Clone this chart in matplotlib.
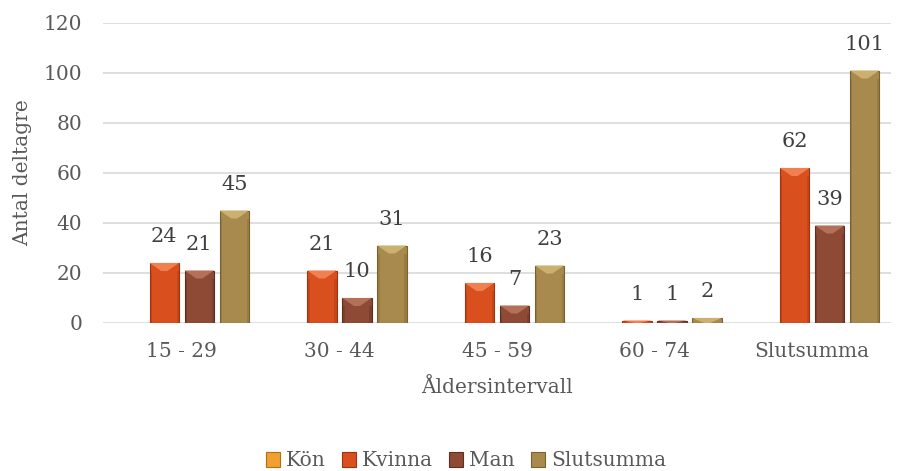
import matplotlib
matplotlib.use("Agg")
import matplotlib.pyplot as plt
import numpy as np
from matplotlib.patches import Polygon, Rectangle, Patch

categories = ["15 - 29", "30 - 44", "45 - 59", "60 - 74", "Slutsumma"]
series_names = ["Kön", "Kvinna", "Man", "Slutsumma"]
kon = [np.nan, np.nan, np.nan, np.nan, np.nan]
kvinna = [24, 21, 16, 1, 62]
man = [21, 10, 7, 1, 39]
slutsumma = [45, 31, 23, 2, 101]
y_ticks = [0, 20, 40, 60, 80, 100, 120]

colors = ["#F0A030", "#D9501E", "#8E4A34", "#A88A4E"]
light = ["#F8C870", "#F08050", "#B47058", "#CCB070"]
dark = ["#B07010", "#9E3410", "#5E2E20", "#7A6230"]

plt.rcParams['font.family'] = ['DejaVu Serif']
fig = plt.figure(figsize=(9.01, 4.71), dpi=100)
ax = fig.add_axes([103/901, 1-323/471, 788/901, 300/471])
ax.set_xlim(-0.5, len(categories)-0.5)
ax.set_ylim(0, 120)
for s in ax.spines.values():
    s.set_visible(False)
ax.set_yticks(y_ticks)
ax.yaxis.grid(True, color="#D9D9D9", linewidth=1.2)
ax.set_axisbelow(True)
ax.tick_params(axis='both', length=0, labelsize=14.5, colors="#595959")
ax.tick_params(axis='y', pad=15)
ax.tick_params(axis='x', pad=14)
ax.set_xticks(range(len(categories)))
ax.set_xticklabels(categories)
ax.set_xlabel("Åldersintervall", fontsize=14.5, color="#595959", labelpad=12)
ax.set_ylabel("Antal deltagre", fontsize=14.5, color="#595959", labelpad=8)

data = [kon, kvinna, man, slutsumma]
bw = 0.187
step = 0.222
x = np.arange(len(categories))
px_per_unit = 300/120.0
for si, vals in enumerate(data):
    offs = (si - 1.5) * step
    bars = ax.bar(x + offs, vals, width=bw, color=colors[si], edgecolor=dark[si], linewidth=0.8, zorder=2)
    for b, v in zip(bars, vals):
        if v is None or np.isnan(v):
            continue
        x0 = b.get_x(); x1 = x0 + b.get_width(); h = b.get_height()
        xc = (x0 + x1) / 2
        d = min(8/px_per_unit, h)
        tri = Polygon([[x0, h], [x1, h], [x1 - bw*0.4, h - d], [x0 + bw*0.4, h - d]], closed=True,
                      facecolor=light[si], edgecolor='none', zorder=3)
        ax.add_patch(tri)
        ax.add_patch(Rectangle((x0, 0), bw*0.08, max(h - d, 0), facecolor=dark[si], alpha=0.35, edgecolor='none', zorder=3))
        ax.add_patch(Rectangle((x1 - bw*0.08, 0), bw*0.08, max(h - d, 0), facecolor=dark[si], alpha=0.35, edgecolor='none', zorder=3))
        ax.annotate(f"{int(v)}", (xc, h), xytext=(0, 12), textcoords="offset points",
                    ha="center", va="bottom", fontsize=15, color="#404040")

handles = [Patch(facecolor=colors[i], edgecolor=dark[i], linewidth=0.8) for i in range(4)]
fig.legend(handles, series_names, loc="center", bbox_to_anchor=(466/901, 1-461/471), ncol=4,
           frameon=False, fontsize=14.5, handlelength=0.7, handleheight=0.7, handletextpad=0.3,
           columnspacing=0.8, labelcolor="#595959")

fig.savefig("out.png", dpi=100)
